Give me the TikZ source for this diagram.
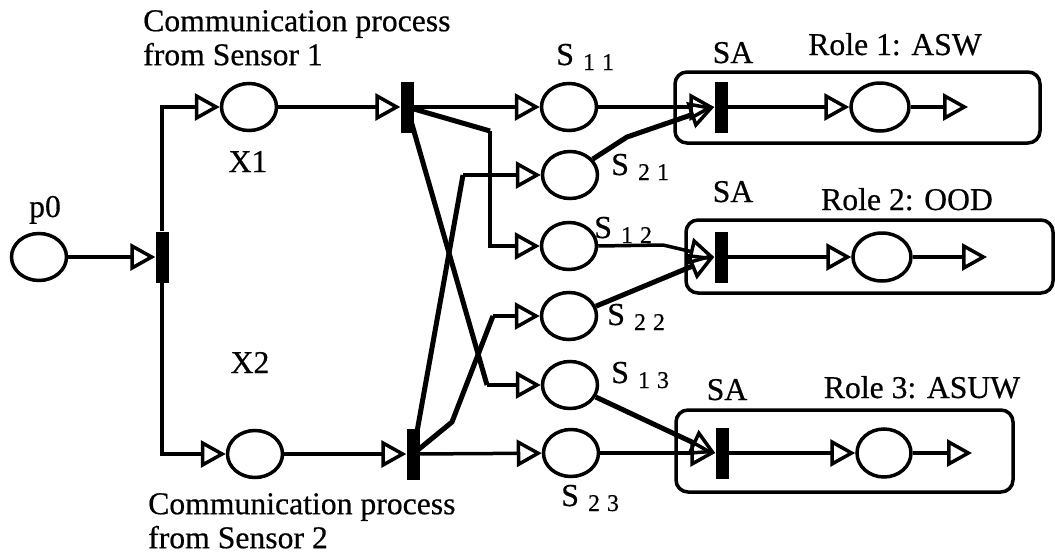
\documentclass[tikz,border=0pt]{standalone}
\usepackage{fontspec}
\setmainfont{Liberation Serif}[FakeBold=0.5]
\usetikzlibrary{arrows.meta,shapes.geometric}
\newcommand{\slab}[2]{\fontsize{32}{32}\selectfont S\hspace{9pt}\raisebox{-5pt}{\fontsize{24}{24}\selectfont #1\hspace{7pt}#2}}
\begin{document}
\begin{tikzpicture}[x=1pt,y=-1pt,
	place/.style={ellipse,draw,line width=3.5pt,minimum width=55pt,minimum height=47pt,inner sep=0pt},
	bar/.style={rectangle,fill=black,minimum width=13pt,minimum height=51pt,inner sep=0pt},
	lbl/.style={inner sep=0pt,font=\fontsize{31.7}{34}\selectfont},
	flow/.style={line width=3.5pt,-{Triangle[open,length=25pt,width=27pt,line width=3.5pt]}},
	heavy/.style={line width=5pt},
	role/.style={line width=3.5pt,rounded corners=12pt}]
	\useasboundingbox(0,0)rectangle(1055,557);
	\draw[role](675,72)rectangle(1040,143);
	\draw[role](686,220)rectangle(1053,293);
	\draw[role](676,410)rectangle(1013,492);
	\node[place](p0)at(39,257){};
	\node[bar](t0)at(162,257){};
	\node[place](x1)at(249,107){};
	\node[place](x2)at(255,454){};
	\node[bar](t1)at(407,107){};
	\node[bar](t2)at(413,454){};
	\node[place](s11)at(569,107){};
	\node[place](s21)at(570,175){};
	\node[place](s12)at(569,246){};
	\node[place](s22)at(569,316){};
	\node[place](s13)at(570,385){};
	\node[place](s23)at(571,453){};
	\node[bar](sa1)at(721,107){};
	\node[bar](sa2)at(721,257){};
	\node[bar](sa3)at(722,453){};
	\node[place,minimum width=58pt,minimum height=48pt](r1)at(880,107){};
	\node[place,minimum width=58pt,minimum height=48pt](r2)at(882,257){};
	\node[place,minimum width=54pt,minimum height=48pt](r3)at(884,453){};
	\coordinate(o1)at(968,107);
	\coordinate(o2)at(987,257);
	\coordinate(o3)at(972,453);
	\coordinate(k12)at(490,131);
	\coordinate(k13)at(487,385);
	\coordinate(k21)at(463,175);
	\coordinate(k22a)at(452,422);
	\coordinate(k22b)at(493,316);
	\coordinate(k21b)at(627,137);
	\coordinate(k12b)at(663,245);
	\node[lbl,anchor=base](lp0)at(45,217){p0};
	\node[lbl,anchor=base](lx1)at(248,172){X1};
	\node[lbl,anchor=base](lx2)at(250,373){X2};
	\node[lbl,anchor=north west,align=left](lc1)at(143,10){Communication process\\from Sensor 1};
	\node[lbl,anchor=north west,align=left](lc2)at(148,493){Communication process\\from Sensor 2};
	\node[lbl,anchor=base](lsa1)at(733,63){SA};
	\node[lbl,anchor=base](lsa2)at(733,202){SA};
	\node[lbl,anchor=base](lsa3)at(727,400){SA};
	\node[lbl,anchor=base](lr1)at(895,55){Role 1: ASW};
	\node[lbl,anchor=base](lr2)at(907,210){Role 2: OOD};
	\node[lbl,anchor=base](lr3)at(922,398){Role 3: ASUW};
	\node[inner sep=0pt,anchor=base west](ls11)at(556,65){\slab{1}{1}};
	\node[inner sep=0pt,anchor=base west](ls21)at(611,175){\slab{2}{1}};
	\node[inner sep=0pt,anchor=base west](ls12)at(594,238){\slab{1}{2}};
	\node[inner sep=0pt,anchor=base west](ls22)at(607,325){\slab{2}{2}};
	\node[inner sep=0pt,anchor=base west](ls13)at(611,383){\slab{1}{3}};
	\node[inner sep=0pt,anchor=base west](ls23)at(561,506){\slab{2}{3}};
	\draw[flow](p0)--(t0);
	\draw[flow](t0.north)|-(x1.west);
	\draw[flow](t0.south)|-(x2.west);
	\draw[flow](x1)--(t1);
	\draw[flow](x2)--(t2);
	\draw[flow](t1)--(s11);
	\draw[heavy](t1.center)--(k12);
	\draw[flow](k12)|-(s12.west);
	\draw[heavy](t1.center)--(k13);
	\draw[flow](k13)--(s13.west);
	\draw[flow](t2)--(s23);
	\draw[heavy](t2.center)--(k21);
	\draw[flow](k21)--(s21.west);
	\draw[heavy,line join=round](t2.center)--(k22a)--(k22b);
	\draw[flow](k22b)--(s22.west);
	\draw[flow](s11)--(sa1);
	\draw[flow,heavy](s21.35)--(k21b)--(sa1.west);
	\draw[flow](s12.east)--(k12b)--(sa2.west);
	\draw[flow,heavy](s22.20)--(sa2.west);
	\draw[flow,heavy](s13.-25)--(sa3.west);
	\draw[flow](s23)--(sa3);
	\foreach \i in {1,2,3}{
		\draw[flow](sa\i)--(r\i);
		\draw[flow](r\i)--(o\i);
	}
\end{tikzpicture}
\end{document}
